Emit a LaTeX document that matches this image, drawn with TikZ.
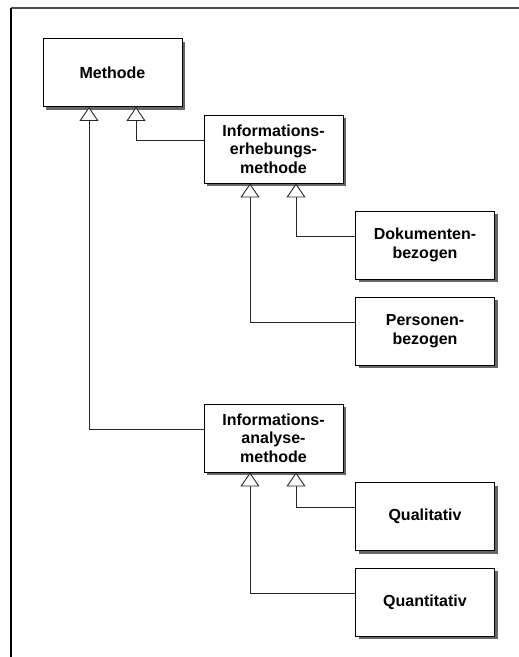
\documentclass[tikz,border=0pt]{standalone}
\usepackage{fontspec}
\setmainfont{Liberation Sans}
\usetikzlibrary{arrows.meta,shadows}
\begin{document}
\begin{tikzpicture}[x=1pt,y=-1pt,
  cls/.style={draw=black, line width=0.9pt, fill=white, align=center,
    minimum width=139pt, minimum height=68pt, inner sep=0pt,
    font=\fontsize{16pt}{18.5pt}\selectfont\bfseries,
    drop shadow={shadow xshift=3pt, shadow yshift=-3pt, fill=black!60, opacity=1}},
  gen/.style={draw=black!85, line width=0.9pt,
    -{Triangle[open, length=14pt, width=19pt, line width=0.9pt, fill=white]}},
  frame/.style={line width=1.6pt}]
\useasboundingbox (0,0) rectangle (519,657);

% outer frame (top and left edges)
\draw[frame, black!70] (11,8) -- (519,8);
\draw[frame, black] (11,8) -- (11,657);

% classes
\node[cls] (methode)  at (112.5,72.5) {Methode};
\node[cls] (erheb)    at (273.5,149)  {Informations-\\erhebungs-\\methode};
\node[cls] (doku)     at (425,245)    {Dokumenten-\\bezogen};
\node[cls] (person)   at (425,331)    {Personen-\\bezogen};
\node[cls] (analyse)  at (273.5,438)  {Informations-\\analyse-\\methode};
\node[cls] (quali)    at (425,516.5)  {Qualitativ};
\node[cls] (quanti)   at (425,602)    {Quantitativ};

% generalisation connectors
\draw[gen] ([yshift=9pt]erheb.west)   -| ([xshift=23.5pt]methode.south);
\draw[gen] ([yshift=9pt]analyse.west) -| ([xshift=-23.5pt]methode.south);
\draw[gen] ([yshift=9pt]doku.west)    -| ([xshift=22.5pt]erheb.south);
\draw[gen] ([yshift=9pt]person.west)  -| ([xshift=-23.5pt]erheb.south);
\draw[gen] ([yshift=9pt]quali.west)   -| ([xshift=22.5pt]analyse.south);
\draw[gen] ([yshift=9pt]quanti.west)  -| ([xshift=-23.5pt]analyse.south);
\end{tikzpicture}
\end{document}
